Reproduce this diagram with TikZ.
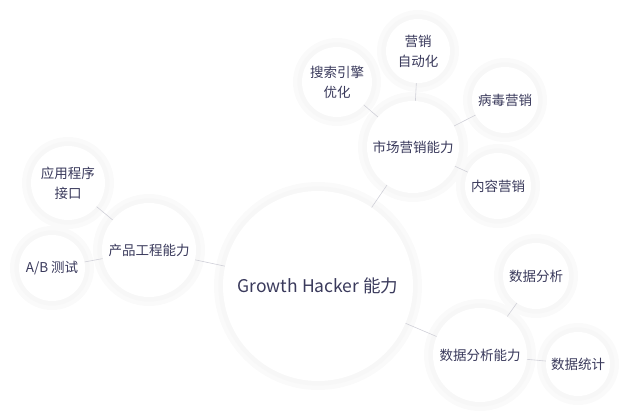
\documentclass[tikz,border=0pt]{standalone}
\usepackage{fontspec}
\setmainfont{Noto Sans CJK SC}
\usepackage{xcolor}
\usetikzlibrary{positioning, calc}
\definecolor{labeltext}{RGB}{58,58,92}
\definecolor{linkgray}{RGB}{208,208,216}

\begin{document}
\begin{tikzpicture}[
    x=1pt, y=-1pt,
    bubble/.style={circle, fill=white, text=labeltext, align=center, inner sep=0pt,
        font=\fontsize{13.5}{20}\selectfont,
        preaction={draw=black!2, line width=18pt},
        preaction={draw=black!3, line width=9pt}},
    hub/.style={bubble, minimum size=94pt},
    leaf/.style={bubble, minimum size=66pt},
    link/.style={draw=linkgray, line width=0.6pt}
]
    \useasboundingbox (0,0) rectangle (630,420);

    % Centre
    \node[bubble, minimum size=190pt, font=\fontsize{17.5}{20}\selectfont] (growth) at (318,286) {Growth Hacker 能力};

    % Hubs
    \node[hub, minimum size=92pt] (market) at (413,147) {市场营销能力};
    \node[hub] (product) at (149,250) {产品工程能力};
    \node[hub] (data) at (480,355) {数据分析能力};

    % Marketing leaves
    \node[leaf, minimum size=64pt] (auto) at (418,51) {营销\\自动化};
    \node[leaf, minimum size=70pt] (seo) at (337,82) {搜索引擎\\优化};
    \node[leaf] (viral) at (505,100) {病毒营销};
    \node[leaf] (content) at (498,186) {内容营销};

    % Product leaves
    \node[leaf, minimum size=74pt] (api) at (68,183) {应用程序\\接口};
    \node[leaf] (abtest) at (52,268) {A/B 测试};

    % Data leaves
    \node[leaf] (analysis) at (536,276) {数据分析};
    \node[leaf, minimum size=64pt] (stats) at (578,364) {数据统计};

    % Links
    \draw[link] (growth) -- (market);
    \draw[link] (growth) -- (product);
    \draw[link] (growth) -- (data);
    \draw[link] (market) -- (auto);
    \draw[link] (market) -- (seo);
    \draw[link] (market) -- (viral);
    \draw[link] (market) -- (content);
    \draw[link] (product) -- (api);
    \draw[link] (product) -- (abtest);
    \draw[link] (data) -- (analysis);
    \draw[link] (data) -- (stats);
\end{tikzpicture}
\end{document}
